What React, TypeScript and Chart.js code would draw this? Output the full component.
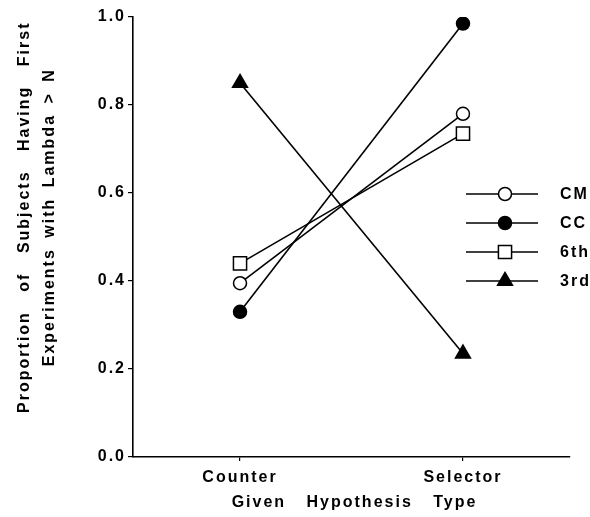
import React, { useEffect, useRef } from 'react';
import { Chart, registerables } from 'chart.js';

Chart.register(...registerables);

const categories = ['Counter', 'Selector'];
const seriesNames = ['CM', 'CC', '6th', '3rd'];
const cmValues = [0.395, 0.78];
const ccValues = [0.33, 0.985];
const sixthValues = [0.44, 0.735];
const thirdValues = [0.85, 0.235];
const yTickValues = [0, 0.2, 0.4, 0.6, 0.8, 1.0];
const yTitleLines = ['Proportion of Subjects Having First', 'Experiments with Lambda > N'];
const xTitle = 'Given Hypothesis Type';

const FONT = '"Liberation Sans", Arial, sans-serif';
const TEXT_FONT = `bold 16px ${FONT}`;
const LS = '2px';

type Marker = { style: 'circle' | 'rect' | 'triangle'; fill: string; radius: number };
const markers: Marker[] = [
  { style: 'circle', fill: '#fff', radius: 6.5 },
  { style: 'circle', fill: '#000', radius: 6.5 },
  { style: 'rect', fill: '#fff', radius: 9.3 },
  { style: 'triangle', fill: '#000', radius: 8.6 },
];
const seriesValues = [cmValues, ccValues, sixthValues, thirdValues];

function drawMarker(ctx: CanvasRenderingContext2D, m: Marker, x: number, y: number) {
  ctx.save();
  ctx.fillStyle = m.fill;
  ctx.strokeStyle = '#000';
  ctx.lineWidth = 1.5;
  ctx.beginPath();
  if (m.style === 'circle') {
    ctx.arc(x, y, m.radius, 0, Math.PI * 2);
  } else if (m.style === 'rect') {
    const s = Math.SQRT1_2 * m.radius;
    ctx.rect(x - s, y - s, 2 * s, 2 * s);
  } else {
    const r = m.radius;
    ctx.moveTo(x, y - r);
    ctx.lineTo(x + r * 0.866, y + r * 0.5);
    ctx.lineTo(x - r * 0.866, y + r * 0.5);
    ctx.closePath();
  }
  ctx.fill();
  ctx.stroke();
  ctx.restore();
}

const spacingPlugin = {
  id: 'spacing',
  beforeLayout(chart: any) {
    (chart.ctx as any).letterSpacing = LS;
  },
  beforeDraw(chart: any) {
    (chart.ctx as any).letterSpacing = LS;
  },
};

const titleWordSpacing = ['13px', '4px'];

const decorPlugin = {
  id: 'decor',
  afterDraw(chart: any) {
    const ctx = chart.ctx as CanvasRenderingContext2D;
    const area = chart.chartArea;
    ctx.save();
    (ctx as any).letterSpacing = LS;
    ctx.font = TEXT_FONT;
    ctx.fillStyle = '#000';
    ctx.textAlign = 'center';
    ctx.textBaseline = 'middle';
    // y title
    const cy = area.top + (area.bottom - area.top) * 0.455;
    yTitleLines.forEach((line, i) => {
      ctx.save();
      (ctx as any).wordSpacing = titleWordSpacing[i];
      ctx.translate(25 + i * 25, cy);
      ctx.rotate(-Math.PI / 2);
      ctx.fillText(line, 0, 0);
      ctx.restore();
    });
    // x title
    (ctx as any).wordSpacing = '14px';
    ctx.fillText(xTitle, (area.left + area.right) / 2 + 3, area.bottom + 46);

    // legend
    ctx.textAlign = 'left';
    (ctx as any).wordSpacing = '0px';
    seriesNames.forEach((name, i) => {
      const y = area.top + 177 + i * 29;
      const x0 = area.left + 333;
      const x1 = area.left + 405;
      ctx.strokeStyle = '#000';
      ctx.lineWidth = 1.5;
      ctx.beginPath();
      ctx.moveTo(x0, y);
      ctx.lineTo(x1, y);
      ctx.stroke();
      drawMarker(ctx, markers[i], area.left + 372, y);
      ctx.fillStyle = '#000';
      ctx.fillText(name, area.left + 427, y + 1);
    });
    ctx.restore();
  },
};

export default function App() {
  const ref = useRef<HTMLCanvasElement>(null);
  useEffect(() => {
    document.body.style.margin = '0';
    const canvas = ref.current!;
    const chart = new Chart(canvas, {
      type: 'line',
      data: {
        datasets: seriesNames.map((name, si) => ({
          label: name,
          data: seriesValues[si].map((v, i) => ({ x: i + 1, y: v })),
          borderColor: '#000',
          borderWidth: 1.6,
          pointStyle: markers[si].style,
          pointRadius: markers[si].radius,
          pointHoverRadius: markers[si].radius,
          pointBackgroundColor: markers[si].fill,
          pointBorderColor: '#000',
          pointBorderWidth: 1.5,
          tension: 0,
        })),
      },
      plugins: [spacingPlugin, decorPlugin],
      options: {
        animation: false,
        responsive: false,
        devicePixelRatio: 1,
        layout: { padding: { top: 17, right: 20, left: 0, bottom: 0 } },
        plugins: { legend: { display: false }, tooltip: { enabled: false } },
        scales: {
          x: {
            type: 'linear',
            min: 0.52,
            max: 2.48,
            afterBuildTicks: (scale: any) => {
              scale.ticks = categories.map((_, i) => ({ value: i + 1 }));
            },
            afterFit: (scale: any) => {
              scale.height = 60;
            },
            ticks: {
              color: '#000',
              font: { family: FONT, size: 16, weight: 'bold' },
              padding: 7,
              maxRotation: 0,
              callback: (v: any) => categories[Math.round(v) - 1] ?? '',
            },
            grid: { drawOnChartArea: false, drawTicks: true, tickLength: 4, color: '#000', lineWidth: 1.2 },
            border: { color: '#000', width: 1.6 },
          },
          y: {
            type: 'linear',
            min: 0,
            max: 1,
            afterBuildTicks: (scale: any) => {
              scale.ticks = yTickValues.map((v) => ({ value: v }));
            },
            afterFit: (scale: any) => {
              scale.width = 133;
            },
            ticks: {
              color: '#000',
              font: { family: FONT, size: 16, weight: 'bold' },
              padding: 2,
              callback: (v: any) => Number(v).toFixed(1),
            },
            grid: { drawOnChartArea: false, drawTicks: true, tickLength: 5, color: '#000', lineWidth: 1.2 },
            border: { color: '#000', width: 1.6 },
          },
        },
      },
    } as any);
    return () => chart.destroy();
  }, []);
  return (
    <div style={{ position: 'absolute', left: 0, top: 0, width: 590, height: 517, background: '#fff' }}>
      <canvas ref={ref} width={590} height={517} style={{ display: 'block' }} />
    </div>
  );
}
